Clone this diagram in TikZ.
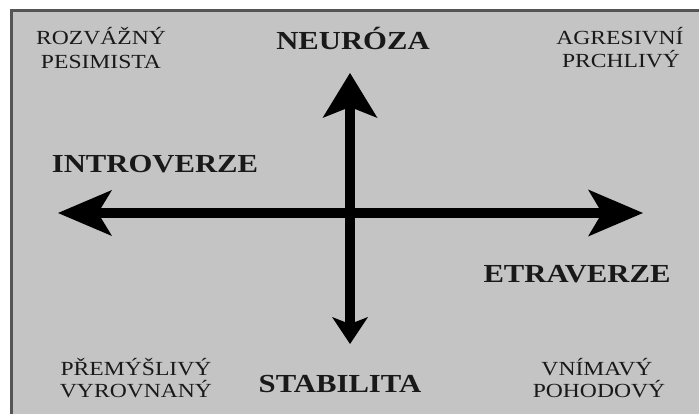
\documentclass[tikz,border=0pt]{standalone}
\usepackage{fontspec}
\setmainfont{Liberation Serif}
\usetikzlibrary{arrows.meta}
\definecolor{panel}{RGB}{196,196,196}
\definecolor{frame}{RGB}{85,85,85}
\definecolor{ink}{RGB}{25,25,25}
\newcommand\hs[1]{\scalebox{1.18}[1]{#1}}
\tikzset{
  trait/.style={anchor=base, inner sep=0pt, text=ink, font=\fontsize{20}{23}\selectfont},
  pole/.style={anchor=base, inner sep=0pt, text=ink, font=\bfseries\fontsize{26}{30}\selectfont},
  axis/.style={line width=10pt, draw=black},
}
\begin{document}
\begin{tikzpicture}[x=1pt,y=-1pt]
\useasboundingbox (0,0) rectangle (699,414);
\clip (0,0) rectangle (699,414);
\fill[white] (0,0) rectangle (699,414);
\draw[fill=panel, draw=frame, line width=3pt] (11,11) rectangle (720,430);

% axis end points
\coordinate (n) at (350,73);
\coordinate (s) at (350,344);
\coordinate (w) at (58,213);
\coordinate (e) at (643,213);

\draw[axis, {Stealth[length=54pt,width=46pt,inset=14pt,line width=0pt]}-{Stealth[length=55pt,width=47pt,inset=14pt,line width=0pt]}] (w) -- (e);
\draw[axis, {Stealth[length=27pt,width=36pt,inset=7pt,line width=0pt]}-{Stealth[length=45pt,width=55pt,inset=11pt,line width=0pt]}] (s) -- (n);

% poles
\node[pole] (neu) at (353,50) {\hs{NEURÓZA}};
\node[pole] (intro) at (155,173) {\hs{INTROVERZE}};
\node[pole] (extra) at (577,283) {\hs{ETRAVERZE}};
\node[pole] (stab) at (340,392) {\hs{STABILITA}};

% quadrant traits
\node[trait] (q1a) at (101,45) {\hs{ROZVÁŽNÝ}};
\node[trait] (q1b) at (101,69) {\hs{PESIMISTA}};
\node[trait] (q2a) at (620,45) {\hs{AGRESIVNÍ}};
\node[trait] (q2b) at (621,68) {\hs{PRCHLIVÝ}};
\node[trait] (q3a) at (136,375) {\hs{PŘEMÝŠLIVÝ}};
\node[trait] (q3b) at (136,397) {\hs{VYROVNANÝ}};
\node[trait] (q4a) at (597,375) {\hs{VNÍMAVÝ}};
\node[trait] (q4b) at (599,397) {\hs{POHODOVÝ}};
\end{tikzpicture}
\end{document}
